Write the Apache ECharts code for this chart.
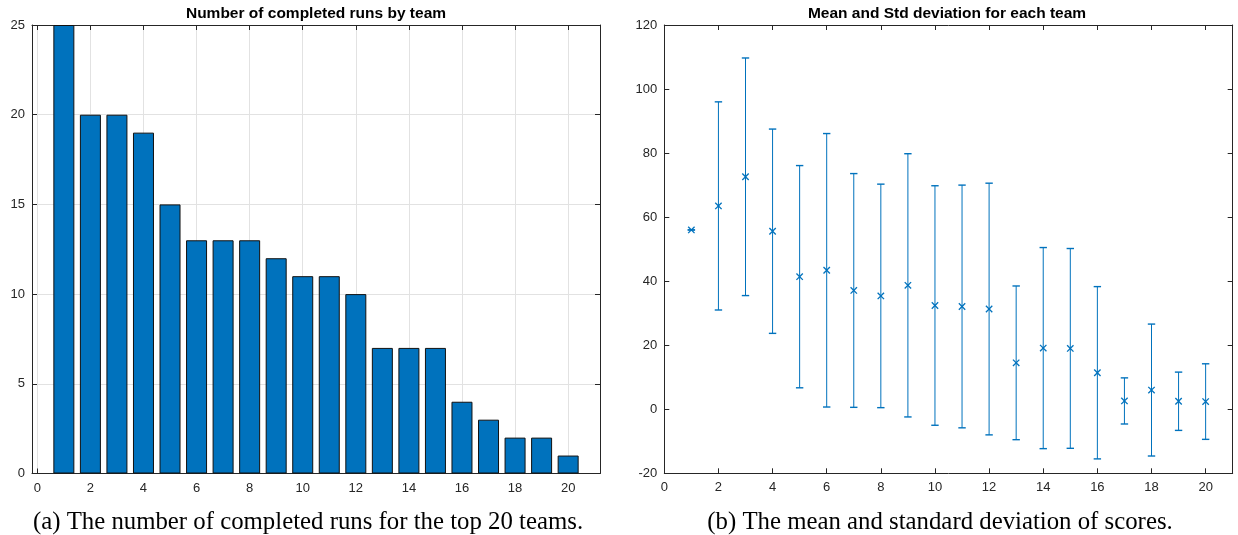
<!DOCTYPE html>
<html>
<head>
<meta charset="utf-8">
<script src="https://cdn.jsdelivr.net/npm/echarts@6/dist/echarts.min.js"></script>
<style>
html,body{margin:0;padding:0;background:#fff;}
#chart{width:1238px;height:535px;}
</style>
</head>
<body>
<div id="chart"></div>
<script>
// ---- data ----
var teams = [1,2,3,4,5,6,7,8,9,10,11,12,13,14,15,16,17,18,19,20];
var completedRuns = [25,20,20,19,15,13,13,13,12,11,11,10,7,7,7,4,3,2,2,1];
var scoreMean = [56,63.5,72.6,55.6,41.4,43.4,37.1,35.4,38.7,32.4,32.1,31.3,14.5,19.1,19.0,11.4,2.6,6.0,2.5,2.4];
var scoreStd  = [0,32.5,37.1,31.9,34.7,42.7,36.5,34.9,41.1,37.4,37.9,39.3,24.0,31.4,31.2,26.9,7.2,20.6,9.1,11.8];
var xTicks = [0,2,4,6,8,10,12,14,16,18,20];
var titleLeft = 'Number of completed runs by team';
var titleRight = 'Mean and Std deviation for each team';
var captionLeft = '(a) The number of completed runs for the top 20 teams.';
var captionRight = '(b) The mean and standard deviation of scores.';

var BLUE = '#0072BD';
var AX = '#262626';
var GRIDC = '#e2e2e2';
var FONT = 'Liberation Sans, Arial, Helvetica, sans-serif';
var SERIF = 'Liberation Serif, Times New Roman, serif';

var barData = teams.map(function(t,i){return [t, completedRuns[i]];});
var errData = teams.map(function(t,i){return [t, scoreMean[i], scoreMean[i]-scoreStd[i], scoreMean[i]+scoreStd[i]];});

function xAxisCfg(gridIndex, pos, min, max, showLabel, showSplit){
  return {
    type:'value', gridIndex:gridIndex, position:pos, min:min, max:max,
    axisLine:{show:true, onZero:false, lineStyle:{color:AX, width:1}},
    axisTick:{show:true, inside:true, length:5, customValues:xTicks, lineStyle:{color:AX}},
    axisLabel:{show:showLabel, customValues:xTicks, color:AX, fontSize:13, fontFamily:FONT, margin:8},
    splitLine:{show:showSplit, lineStyle:{color:GRIDC, width:1}},
    minorTick:{show:false}
  };
}
function yAxisCfg(gridIndex, pos, min, max, interval, showLabel, showSplit){
  return {
    type:'value', gridIndex:gridIndex, position:pos, min:min, max:max, interval:interval,
    axisLine:{show:true, onZero:false, lineStyle:{color:AX, width:1}},
    axisTick:{show:true, inside:true, length:5, lineStyle:{color:AX}},
    axisLabel:{show:showLabel, color:AX, fontSize:13, fontFamily:FONT, margin:7},
    splitLine:{show:showSplit, lineStyle:{color:GRIDC, width:1}}
  };
}

var chart = echarts.init(document.getElementById('chart'), null, {renderer:'canvas'});
var option = {
  animation:false,
  backgroundColor:'#fff',
  grid:[
    {left:32, top:25, width:568, height:448.5, outerBoundsMode:'none', containLabel:false},
    {left:664.3, top:25, width:568.4, height:448.3, outerBoundsMode:'none', containLabel:false}
  ],
  xAxis:[
    xAxisCfg(0,'bottom',-0.2,21.2,true,true),
    xAxisCfg(0,'top',-0.2,21.2,false,false),
    xAxisCfg(1,'bottom',0,21,true,false),
    xAxisCfg(1,'top',0,21,false,false)
  ],
  yAxis:[
    yAxisCfg(0,'left',0,25,5,true,true),
    yAxisCfg(0,'right',0,25,5,false,false),
    yAxisCfg(1,'left',-20,120,20,true,false),
    yAxisCfg(1,'right',-20,120,20,false,false)
  ],
  series:[
    {
      type:'bar', xAxisIndex:0, yAxisIndex:0, data:barData, barWidth:21,
      itemStyle:{color:BLUE, borderColor:'#111', borderWidth:1},
      z:3
    },
    {
      type:'custom', xAxisIndex:2, yAxisIndex:2, data:errData, z:3,
      renderItem:function(params, api){
        var x = api.value(0), m = api.value(1), lo = api.value(2), hi = api.value(3);
        var pHi = api.coord([x,hi]), pLo = api.coord([x,lo]), pM = api.coord([x,m]);
        var cw = 3.7, ms = 3.2;
        var st = {stroke:BLUE, lineWidth:1};
        var stm = {stroke:BLUE, lineWidth:1.3};
        return {type:'group', children:[
          {type:'line', shape:{x1:pHi[0],y1:pHi[1],x2:pLo[0],y2:pLo[1]}, style:st},
          {type:'line', shape:{x1:pHi[0]-cw,y1:pHi[1],x2:pHi[0]+cw,y2:pHi[1]}, style:{stroke:BLUE,lineWidth:1.4}},
          {type:'line', shape:{x1:pLo[0]-cw,y1:pLo[1],x2:pLo[0]+cw,y2:pLo[1]}, style:{stroke:BLUE,lineWidth:1.4}},
          {type:'line', shape:{x1:pM[0]-ms,y1:pM[1]-ms,x2:pM[0]+ms,y2:pM[1]+ms}, style:stm},
          {type:'line', shape:{x1:pM[0]-ms,y1:pM[1]+ms,x2:pM[0]+ms,y2:pM[1]-ms}, style:stm}
        ]};
      }
    }
  ],
  graphic:[
    {type:'text', x:316, y:14, style:{text:titleLeft, fill:'#000', font:'bold 15.5px '+FONT, textAlign:'center', textVerticalAlign:'middle'}},
    {type:'text', x:947, y:14, style:{text:titleRight, fill:'#000', font:'bold 15.5px '+FONT, textAlign:'center', textVerticalAlign:'middle'}},
    {type:'text', x:308, y:522, style:{text:captionLeft, fill:'#000', font:'24.8px '+SERIF, textAlign:'center', textVerticalAlign:'middle'}},
    {type:'text', x:940, y:522, style:{text:captionRight, fill:'#000', font:'24.8px '+SERIF, textAlign:'center', textVerticalAlign:'middle'}}
  ]
};
chart.setOption(option);
</script>
</body>
</html>
